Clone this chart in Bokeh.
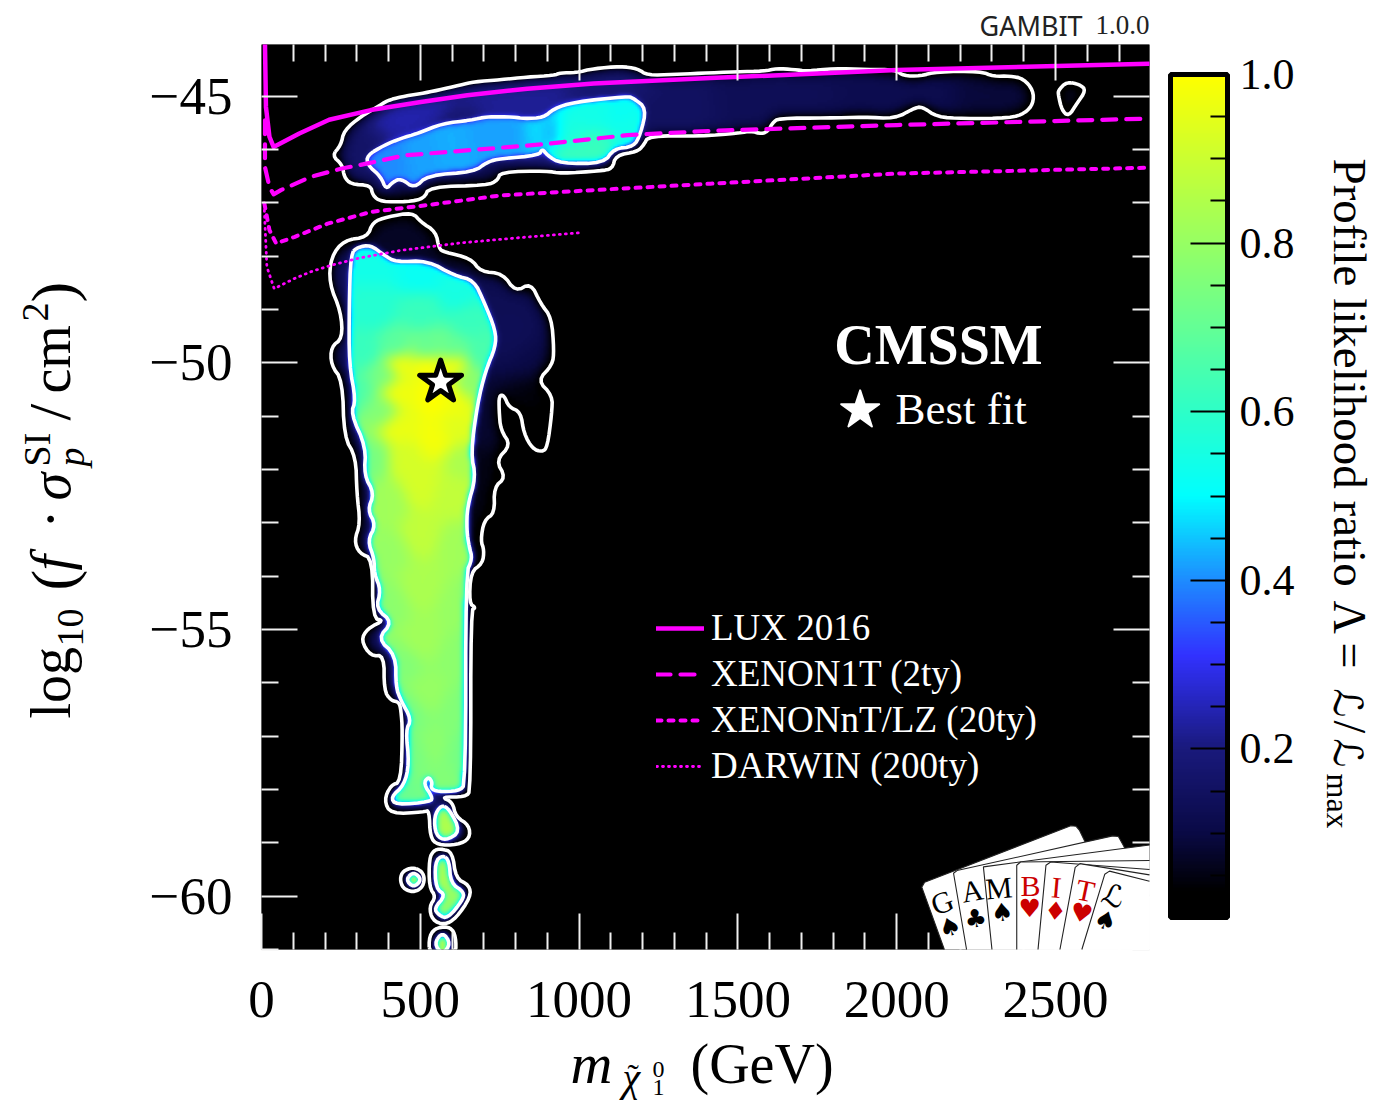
import math
import numpy as np
from bokeh.core.properties import value
from bokeh.embed import file_html
from bokeh.resources import INLINE
from bokeh.plotting import figure
from bokeh.models import (ColorBar, FixedTicker, Legend, LegendItem, LinearAxis,
                          LinearColorMapper, Range1d)

# ---------- axis values ----------
X_MAJOR = [0, 500, 1000, 1500, 2000, 2500]
Y_MAJOR = [-45, -50, -55, -60]
X_MINOR = [v for v in range(100, 2800, 100) if v % 500]
Y_MINOR = [v for v in range(-61, -43) if v % 5]
CB_MAJOR = [0.2, 0.4, 0.6, 0.8, 1.0]
CB_MINOR = [0.05, 0.1, 0.15, 0.25, 0.3, 0.35, 0.45, 0.5, 0.55, 0.65, 0.7, 0.75, 0.85, 0.9, 0.95]

# ---------- exclusion / sensitivity curves ----------
lux_x = [11, 14, 25, 38, 119, 213, 344, 502, 648, 837, 1046, 1414, 2001, 2794]
lux_y = [-44.04, -45.20, -45.76, -45.95, -45.70, -45.44, -45.26, -45.11, -44.98, -44.86, -44.76, -44.66, -44.51, -44.39]
x1t_x = [11, 11, 25, 38, 61, 156, 250, 334, 449, 680, 889, 1152, 1414, 2001, 2794]
x1t_y = [-45.45, -46.33, -46.70, -46.84, -46.76, -46.51, -46.36, -46.26, -46.11, -46.00, -45.90, -45.73, -45.65, -45.54, -45.42]
xnt_x = [9, 25, 46, 103, 208, 344, 523, 753, 1047, 1414, 2001, 2794]
xnt_y = [-47.01, -47.51, -47.76, -47.64, -47.39, -47.17, -47.04, -46.86, -46.76, -46.64, -46.45, -46.34]
dar_x = [9, 17, 40, 103, 156, 219, 303, 439, 627, 816, 1003]
dar_y = [-47.14, -48.20, -48.61, -48.42, -48.29, -48.17, -48.04, -47.89, -47.75, -47.65, -47.56]
LEGEND_LABELS = ["LUX 2016", "XENON1T (2ty)", "XENONnT/LZ (20ty)", "DARWIN (200ty)"]

# ---------- best fit ----------
best_x, best_y = [564], [-50.36]
key_x, key_y = [1885], [-50.89]

# ---------- credible-region contours (GeV, log10) ----------
up_out = [(222,-46.11),(250,-45.92),(260,-45.64),(313,-45.38),(365,-45.20),(397,-45.08),(439,-45.01),(502,-44.95),(554,-44.89),(627,-44.79),(669,-44.73),(753,-44.69),(837,-44.64),(921,-44.61),(942,-44.56),(989,-44.56),(1047,-44.48),(1131,-44.44),(1183,-44.48),(1215,-44.61),(1298,-44.59),(1382,-44.57),(1498,-44.54),(1581,-44.53),(1623,-44.48),(1676,-44.50),(1718,-44.53),(1801,-44.48),(1906,-44.50),(1995,-44.50),(2022,-44.62),(2074,-44.62),(2127,-44.54),(2263,-44.53),(2305,-44.63),(2357,-44.62),(2399,-44.67),(2430,-44.89),(2430,-45.14),(2404,-45.32),(2357,-45.41),(2210,-45.42),(2127,-45.39),(2079,-45.19),(2053,-45.23),(1995,-45.42),(1896,-45.39),(1781,-45.41),(1628,-45.41),(1608,-45.51),(1597,-45.64),(1576,-45.71),(1539,-45.65),(1508,-45.69),(1382,-45.75),(1219,-45.74),(1203,-45.92),(1183,-46.04),(1115,-46.11),(1105,-46.36),(1068,-46.40),(942,-46.45),(900,-46.40),(753,-46.42),(743,-46.58),(711,-46.67),(528,-46.70),(512,-46.92),(460,-46.98),(376,-46.98),(350,-46.86),(344,-46.67),(281,-46.65),(260,-46.51),(255,-46.29)]
island = [(2535,-44.73),(2577,-44.78),(2596,-44.89),(2567,-45.14),(2541,-45.38),(2520,-45.26),(2509,-44.98),(2509,-44.89)]
up_in = [(332,-46.11),(386,-45.92),(439,-45.79),(491,-45.70),(570,-45.51),(659,-45.45),(711,-45.38),(795,-45.39),(826,-45.42),(889,-45.40),(921,-45.23),(984,-45.11),(1152,-45.00),(1172,-45.04),(1212,-45.23),(1194,-45.70),(1172,-45.95),(1110,-45.98),(1078,-46.26),(942,-46.26),(900,-46.11),(884,-45.98),(874,-46.11),(753,-46.17),(711,-46.23),(669,-46.42),(523,-46.48),(481,-46.73),(439,-46.54),(413,-46.61),(392,-46.75),(376,-46.51),(334,-46.29)]
low_out = [(260,-47.70),(334,-47.64),(350,-47.36),(397,-47.26),(476,-47.18),(502,-47.36),(549,-47.54),(559,-47.86),(575,-47.92),(659,-48.04),(690,-48.29),(759,-48.32),(800,-48.67),(848,-48.50),(879,-48.89),(913,-49.15),(921,-49.76),(916,-50.04),(869,-50.33),(916,-50.61),(914,-50.95),(900,-51.58),(884,-51.67),(853,-51.61),(826,-51.32),(816,-50.92),(779,-50.83),(764,-50.61),(748,-50.61),(748,-50.89),(753,-51.26),(785,-51.54),(738,-51.83),(769,-52.15),(732,-52.33),(734,-52.82),(701,-52.95),(690,-53.33),(701,-53.51),(696,-53.76),(659,-53.92),(654,-54.51),(675,-54.59),(659,-54.64),(659,-58.01),(643,-58.14),(565,-58.14),(601,-58.23),(612,-58.51),(654,-58.67),(656,-58.92),(617,-59.04),(554,-59.04),(531,-58.89),(528,-58.39),(512,-58.42),(407,-58.46),(386,-58.20),(407,-57.92),(439,-57.86),(444,-56.89),(439,-56.51),(433,-56.36),(407,-56.33),(386,-56.14),(386,-55.48),(344,-55.50),(313,-55.20),(334,-54.98),(386,-54.83),(350,-54.79),(350,-53.67),(308,-53.57),(292,-53.33),(311,-53.01),(300,-52.44),(297,-51.76),(260,-51.39),(255,-50.33),(219,-50.04),(219,-49.70),(255,-49.54),(250,-49.04),(213,-48.51),(219,-48.01)]
low_in = [(281,-47.95),(303,-47.83),(344,-47.79),(386,-47.98),(423,-48.11),(523,-48.08),(606,-48.36),(669,-48.45),(701,-48.86),(737,-49.39),(737,-49.70),(706,-50.14),(680,-50.76),(659,-51.70),(675,-52.14),(648,-52.70),(646,-53.14),(654,-53.45),(664,-53.67),(643,-53.95),(643,-57.89),(622,-58.03),(554,-58.04),(533,-57.98),(538,-57.86),(525,-57.76),(510,-57.89),(538,-58.14),(533,-58.23),(423,-58.29),(407,-58.14),(449,-57.92),(465,-57.51),(454,-56.89),(472,-56.69),(439,-56.33),(423,-56.08),(423,-55.48),(365,-55.17),(413,-54.86),(360,-54.61),(376,-54.26),(355,-53.95),(355,-53.67),(334,-53.33),(360,-53.04),(334,-52.76),(355,-52.45),(323,-52.11),(329,-51.58),(281,-50.95),(297,-50.70),(276,-50.04),(276,-48.95)]
blob_in = [(565,-58.29),(591,-58.36),(627,-58.79),(580,-58.96),(549,-58.86),(543,-58.51)]
tall_out = [(565,-59.11),(601,-59.17),(612,-59.67),(654,-59.79),(659,-60.01),(612,-60.42),(575,-60.54),(538,-60.45),(528,-60.20),(549,-60.01),(528,-59.83),(528,-59.29),(543,-59.14)]
tall_in = [(570,-59.23),(591,-59.33),(596,-59.76),(638,-59.92),(633,-60.08),(586,-60.42),(559,-60.36),(543,-60.23),(580,-59.98),(549,-59.86),(546,-59.36)]
spot_out = [(476,-59.46),(505,-59.53),(514,-59.68),(505,-59.85),(476,-59.93),(445,-59.85),(436,-59.68),(445,-59.53)]
spot_in = [(454,-59.69),(479,-59.54),(505,-59.69),(479,-59.84)]
base_out = [(528,-61.1),(528,-60.73),(554,-60.58),(596,-60.58),(612,-60.76),(612,-61.1)]
base_in = [(543,-60.89),(570,-60.67),(596,-60.89),(570,-61.09)]
OUTER = [up_out, island, low_out, tall_out, spot_out, base_out]
INNER = [up_in, low_in, blob_in, tall_in, spot_in, base_in]

# ---------- profile likelihood read inside / between the contours (GeV, log10, value) ----------
in_samples = [(400,-46.1,.40),(500,-46.0,.42),(600,-45.85,.43),(700,-45.75,.42),(800,-45.7,.42),(860,-45.65,.47),(920,-45.7,.44),
 (960,-45.7,.56),(1050,-45.3,.54),(1130,-45.25,.52),(1050,-46.0,.62),(970,-46.1,.62),(1160,-45.7,.54),
 (340,-48.1,.54),(500,-48.4,.52),(620,-48.7,.55),(350,-49.0,.58),(500,-49.0,.62),(650,-49.2,.62),(330,-49.8,.62),(420,-49.75,.68),(520,-49.8,.70),(600,-49.8,.70),(690,-49.8,.65),
 (430,-50.0,.97),(520,-50.0,.99),(600,-50.0,.97),(430,-50.6,.97),(550,-50.6,1.0),(610,-50.7,.97),(300,-50.5,.66),(385,-50.2,.74),(385,-50.9,.76),(655,-50.4,.78),
 (430,-51.2,.96),(550,-51.4,.98),(610,-51.3,.94),(450,-51.8,.92),(350,-51.8,.74),(640,-51.8,.84),(500,-52.3,.92),(600,-52.5,.88),(400,-52.6,.82),
 (500,-53.2,.88),(400,-53.5,.80),(620,-53.4,.82),(500,-54.2,.84),(400,-54.5,.78),(625,-54.5,.80),(500,-55.2,.82),(620,-55.5,.78),(440,-55.6,.76),
 (520,-56.2,.80),(460,-56.5,.74),(620,-56.5,.76),(540,-57.2,.78),(480,-57.3,.74),(625,-57.3,.74),(560,-57.8,.76),(450,-58.1,.72),
 (585,-58.6,.85),(570,-59.5,.85),(615,-60.0,.80),(570,-60.3,.80),(478,-59.69,1.0),(570,-60.85,.90)]
out_samples = [(300,-46.2,.16),(450,-45.3,.24),(800,-45.0,.22),(1150,-44.7,.18),(1250,-45.3,.15),(1600,-45.0,.13),(2000,-45.0,.12),(2350,-45.0,.09),(2550,-44.95,.08),
 (450,-47.6,.07),(300,-49.0,.14),(800,-49.6,.13),(850,-50.0,.10),(860,-50.6,.04),(870,-51.3,.02),(720,-51.0,.08),(720,-52.3,.05),(600,-46.3,.12),
 (320,-51.0,.12),(340,-54.0,.12),(360,-55.2,.14),(500,-58.9,.14),(450,-58.3,.14),(640,-59.9,.12),(480,-59.9,.12),(570,-61.0,.12)]

# ---------- colour bar colours ----------
PAL_POS = [0.0, 0.03, 0.1, 0.2, 0.31, 0.4, 0.5, 0.6, 0.7, 0.8, 1.0]
PAL_R = [0, 0, 10, 26, 50, 30, 0, 45, 100, 150, 255]
PAL_G = [0, 0, 10, 26, 50, 140, 255, 255, 255, 255, 255]
PAL_B = [0, 0, 70, 125, 255, 255, 255, 200, 150, 100, 0]
_t = np.linspace(0, 1, 256)
palette = ["#%02x%02x%02x" % (int(r), int(g), int(b)) for r, g, b in
           zip(np.interp(_t, PAL_POS, PAL_R), np.interp(_t, PAL_POS, PAL_G), np.interp(_t, PAL_POS, PAL_B))]

# ---------- layout constants ----------
X0, X1, Y0, Y1 = 0, 2796, -61, -44.03
F_L, F_R, F_T, F_B = 261, 1149, 44, 949
W, H = 1390, 1105
NX, NY = (F_R - F_L) // 2, (F_B - F_T) // 2
SERIF = "Liberation Serif"


def chaikin(ring, n=2):
    pts = np.array(ring, dtype=float)
    for _ in range(n):
        nxt = np.roll(pts, -1, axis=0)
        pts = np.column_stack([0.75 * pts + 0.25 * nxt, 0.25 * pts + 0.75 * nxt]).reshape(-1, 2)
    return pts


cx = X0 + (np.arange(NX) + .5) * (X1 - X0) / NX
cy = Y0 + (np.arange(NY) + .5) * (Y1 - Y0) / NY


def raster(rings):
    out = np.zeros((NY, NX), bool)
    for ring in rings:
        pts = chaikin(ring)
        m = np.zeros((NY, NX), bool)
        for (xa, ya), (xb, yb) in zip(pts, np.roll(pts, -1, axis=0)):
            lo, hi = min(ya, yb), max(ya, yb)
            rows = np.where((cy >= lo) & (cy < hi))[0]
            for r in rows:
                xc = xa + (cy[r] - ya) * (xb - xa) / (yb - ya)
                m[r, cx < xc] ^= True
        out |= m
    return out


def blur(a, s):
    n = int(3 * s) + 1
    k = np.exp(-0.5 * (np.arange(-n, n + 1) / s) ** 2)
    k /= k.sum()
    a = np.pad(a.astype(np.float32), n, mode="edge")
    a = np.apply_along_axis(lambda v: np.convolve(v, k, "same"), 1, a)
    a = np.apply_along_axis(lambda v: np.convolve(v, k, "same"), 0, a)
    return a[n:-n, n:-n]


def sampled(samples):
    sx = (F_R - F_L) / (X1 - X0) / 2
    sy = (F_B - F_T) / (Y1 - Y0) / 2
    gx, gy = np.meshgrid(cx * sx, cy * sy)
    num = np.zeros_like(gx, dtype=np.float32)
    den = np.zeros_like(gx, dtype=np.float32)
    for a, b, v in samples:
        w = 1.0 / ((gx - a * sx) ** 2 + (gy - b * sy) ** 2 + 1.0) ** 3
        num += (w * v).astype(np.float32)
        den += w.astype(np.float32)
    return num / den


O_mask = raster(OUTER)
I_mask = raster(INNER)
b_i = blur(I_mask, 1.6)
b_o = blur(O_mask, 3.5)
hard = blur(O_mask, 1.0)
L_in = blur(sampled(in_samples), 3.0)
L_out = blur(sampled(out_samples), 4.0)
field = (b_o ** 2 * L_out + b_i ** 1.1 * np.clip(L_in - L_out, 0, 1)) * hard
field = np.clip(field, 0, 1).astype(np.float32)

# ---------- figure ----------
p = figure(width=W, height=H, output_backend="svg", toolbar_location=None,
           x_range=Range1d(X0, X1), y_range=Range1d(Y0, Y1), x_axis_type=None, y_axis_type=None,
           min_border_left=F_L, min_border_right=W - F_R, min_border_top=F_T,
           min_border_bottom=H - F_B, background_fill_color="black", border_fill_color="white",
           outline_line_color=None)
p.grid.visible = False

mapper = LinearColorMapper(palette=palette, low=0, high=1)
p.image(image=[field], x=X0, y=Y0, dw=X1 - X0, dh=Y1 - Y0, color_mapper=mapper, level="image")

rx, ry = [], []
for ring in OUTER + INNER:
    s = chaikin(ring)
    rx.append(list(s[:, 0]) + [s[0, 0]])
    ry.append(list(s[:, 1]) + [s[0, 1]])
p.multi_line(rx, ry, line_color="white", line_width=3.6, line_join="round")

MAG = "#ff00ff"
r1 = p.line(lux_x, lux_y, line_color=MAG, line_width=4.5, line_cap="round", line_join="round")
r2 = p.line(x1t_x, x1t_y, line_color=MAG, line_width=4.2, line_dash="14 10", line_cap="round", line_join="round")
r3 = p.line(xnt_x, xnt_y, line_color=MAG, line_width=4, line_dash="5 7", line_cap="round", line_join="round")
r4 = p.line(dar_x, dar_y, line_color=MAG, line_width=2.8, line_dash="1 5", line_cap="round", line_join="round")

p.scatter(best_x, best_y, marker="star", size=44, fill_color="white", line_color="black", line_width=5, line_join="round")
p.scatter(key_x, key_y, marker="star", size=40, fill_color="white", line_color="white", line_width=2, line_join="round")

legend = Legend(items=[LegendItem(label=t, renderers=[r]) for t, r in zip(LEGEND_LABELS, [r1, r2, r3, r4])],
                location=(656 - F_L, F_B - 787), orientation="vertical", background_fill_alpha=0, border_line_alpha=0,
                label_text_color="white", label_text_font=SERIF, label_text_font_size="37px",
                glyph_width=48, glyph_height=30, label_height=30, label_standoff=7, spacing=3, padding=0, margin=0)
p.add_layout(legend, "center")


def styled_axis(axis, ticks, minor, labels):
    axis.ticker = FixedTicker(ticks=ticks, minor_ticks=minor)
    axis.axis_line_color = None
    axis.major_tick_in = 36
    axis.major_tick_out = 0
    axis.minor_tick_in = 17
    axis.minor_tick_out = 0
    axis.major_tick_line_color = "#f0f0f0"
    axis.minor_tick_line_color = "#f0f0f0"
    axis.major_tick_line_width = 2
    axis.minor_tick_line_width = 2
    if labels:
        axis.major_label_text_font = SERIF
        axis.major_label_text_font_size = "53px"
        axis.major_label_text_color = "black"
    else:
        axis.major_label_overrides = {v: "" for v in ticks}
        axis.major_label_standoff = 0


bottom = LinearAxis()
styled_axis(bottom, X_MAJOR, X_MINOR, True)
bottom.major_label_standoff = 32
left = LinearAxis()
styled_axis(left, Y_MAJOR, Y_MINOR, True)
left.major_label_standoff = 29
left.major_label_overrides = {v: "\u2212%d" % abs(v) for v in Y_MAJOR}
top = LinearAxis()
styled_axis(top, X_MAJOR[1:], X_MINOR, False)
right = LinearAxis()
styled_axis(right, Y_MAJOR, Y_MINOR, False)
p.add_layout(bottom, "below")
p.add_layout(left, "left")
p.add_layout(top, "above")
p.add_layout(right, "right")

cb = ColorBar(color_mapper=mapper, ticker=FixedTicker(ticks=CB_MAJOR, minor_ticks=CB_MINOR),
              width=57, height=843, location=(21, 32), padding=0, margin=0,
              major_label_text_font=SERIF, major_label_text_font_size="44px", major_label_text_color="black",
              major_label_overrides={v: "%.1f" % v for v in CB_MAJOR}, label_standoff=12,
              major_tick_in=37, major_tick_line_color="black", major_tick_line_width=2,
              minor_tick_in=17, minor_tick_out=0, minor_tick_line_color="black", minor_tick_line_width=2,
              bar_line_color="black", bar_line_width=5, background_fill_alpha=0, border_line_alpha=0)
p.add_layout(cb, "right")

# ---------- cards ----------
cards_x = [[2150,2079,2088,2548,2565,2575,2593,2796,2796],[2220,2179,2190,2680,2698,2713,2796,2796],[2300,2273,2796,2796],
           [2378,2378,2390,2796,2796],[2445,2470,2485,2796,2796],[2514,2562,2577,2796,2796],[2583,2655,2670,2796,2796]]
cards_y = [[-61,-59.83,-59.74,-58.68,-58.69,-58.76,-58.98,-59.5,-61],[-61,-59.57,-59.52,-58.87,-58.88,-59.04,-60,-61],[-61,-59.45,-59.04,-61],
           [-61,-59.42,-59.36,-59.33,-61],[-61,-59.42,-59.36,-59.5,-61],[-61,-59.46,-59.39,-59.6,-61],[-61,-59.59,-59.53,-59.72,-61]]
for cxs, cys in zip(cards_x, cards_y):
    p.patch(cxs, cys, fill_color="white", line_color=None, level="annotation")
    p.line(cxs[:-1], cys[:-1], line_color="#222222", line_width=1.1, level="annotation")


def lab(px, py, text, size, font=SERIF, style="normal", color="black", angle=0, align="left", base="alphabetic"):
    if base == "alphabetic":
        a = math.radians(angle)
        px -= 0.35 * size * math.sin(a)
        py -= 0.35 * size * math.cos(a)
    xd = X0 + (px - F_L) * (X1 - X0) / (F_R - F_L)
    yd = Y1 - (py - F_T) * (Y1 - Y0) / (F_B - F_T)
    p.text(x=[xd], y=[yd], text=[text], text_font=value(font), text_font_size=value("%gpx" % size),
           text_font_style=style, text_color=color, angle=angle, angle_units="deg",
           text_align=align, text_baseline=base, level="annotation")


RED = "#cc0000"
for t, px, py, a, c in [("G", 941.7, 901.7, 20, "black"), ("A", 971.7, 890, 10, "black"), ("M", 998.3, 887.3, 5, "black"),
                        ("B", 1030, 885, 0, RED), ("I", 1056, 886.7, -5, RED), ("T", 1085, 890, -12, RED)]:
    lab(px, py, t, 30, color=c, angle=a, align="center", base="middle")
lab(1113, 895, "\u2112", 30, font="DejaVu Sans", angle=-20, align="center", base="middle")
for t, px, py, a, c in [("\u2660", 949.3, 926.7, 20, "black"), ("\u2663", 975, 918.3, 10, "black"), ("\u2660", 1001.7, 911.7, 5, "black"),
                        ("\u2665", 1029.3, 908.3, 0, RED), ("\u2666", 1055, 910.7, -5, RED), ("\u2665", 1081, 912.7, -12, RED), ("\u2660", 1105, 920, -20, "black")]:
    lab(px, py, t, 25, font="DejaVu Sans", color=c, angle=a, align="center", base="middle")

# ---------- texts ----------
lab(938, 364, "CMSSM", 56, style="bold", color="white", align="center")
lab(895, 424, "Best fit", 45, color="white")
lab(979, 34, "GAMBIT", 27, font="Noto Sans", color="#222222")
lab(1149, 34, "1.0.0", 27, color="#222222", align="right")

# x label
lab(570, 1083, "m", 58, style="italic")
lab(622, 1091, "\u03c7", 40, style="italic")
lab(627, 1088, "\u02dc", 34)
lab(652, 1077, "0", 24)
lab(652, 1095, "1", 24)
lab(690, 1083, "(GeV)", 56)

# y label
for t, bx, py, size, st in [("log", 70, 718, 56, "normal"), ("10", 83, 646, 38, "normal"), ("(", 74, 590, 62, "normal"),
                            ("f", 70, 570, 56, "italic"), ("\u00b7", 70, 528, 56, "normal"), ("\u03c3", 70, 500, 56, "italic"),
                            ("SI", 50, 466, 38, "normal"), ("p", 84, 466, 38, "italic"), ("/", 70, 420, 60, "normal"),
                            ("cm", 70, 393, 56, "normal"), ("2", 48, 321, 38, "normal"), (")", 74, 302, 62, "normal")]:
    lab(bx, py, t, size, style=st, angle=90)

# colour bar label
lab(1333, 158, "Profile likelihood ratio", 47, angle=-90)
lab(1333, 600, "\u039b", 46, angle=-90)
lab(1333, 642, "=", 46, angle=-90)
lab(1333, 688, "\u2112", 40, font="DejaVu Sans", angle=-90)
lab(1333, 720, "/", 46, angle=-90)
lab(1333, 738, "\u2112", 40, font="DejaVu Sans", angle=-90)
lab(1326, 773, "max", 32, angle=-90)

open("out.html", "w").write(file_html(p, INLINE))
